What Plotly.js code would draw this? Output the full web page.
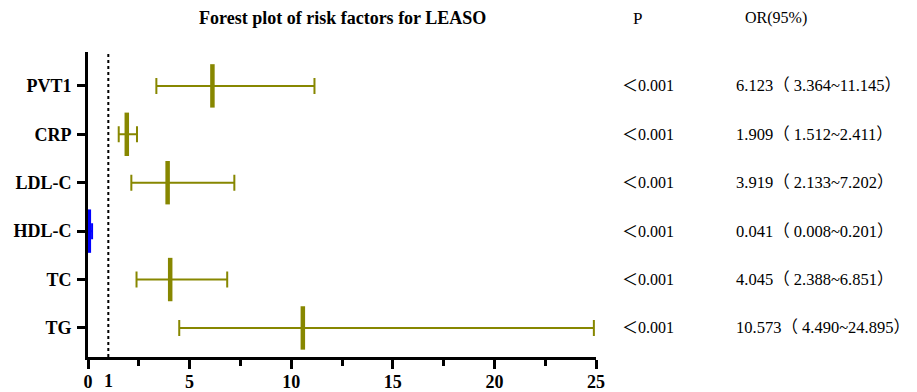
<!DOCTYPE html>
<html><head><meta charset="utf-8">
<script src="https://cdn.plot.ly/plotly-3.0.1.min.js"></script>
<style>html,body{margin:0;padding:0;background:#fff}</style>
</head><body><div id="chart" style="width:917px;height:392px"></div>
<script>
const categories = ['PVT1','CRP','LDL-C','HDL-C','TC','TG'];
const orValues = [6.123,1.909,3.919,0.041,4.045,10.573];
const lowerCI = [3.364,1.512,2.133,0.008,2.388,4.490];
const upperCI = [11.145,2.411,7.202,0.201,6.851,24.895];
const pLabels = ['＜0.001','＜0.001','＜0.001','＜0.001','＜0.001','＜0.001'];
const orLabels = ['6.123（ 3.364~11.145）','1.909（ 1.512~2.411）','3.919（ 2.133~7.202）','0.041（ 0.008~0.201）','4.045（ 2.388~6.851）','10.573（ 4.490~24.895）'];
const xTickVals = [0,5,10,15,20,25];
const highlight = 'HDL-C';

const olive = '#878700';
const blue = '#0000ff';
function mkTrace(filterFn, color){
  const idx = categories.map((c,i)=>i).filter(filterFn);
  return {
    type:'scatter', mode:'markers', cliponaxis:false,
    x: idx.map(i=>orValues[i]), y: idx.map(i=>categories[i]),
    error_x:{type:'data', symmetric:false,
      array: idx.map(i=>upperCI[i]-orValues[i]),
      arrayminus: idx.map(i=>orValues[i]-lowerCI[i]),
      color: color, thickness:2, width:8},
    marker:{symbol:'line-ns-open', size:31, color:color, line:{color:color, width:4.5}},
    hoverinfo:'skip', showlegend:false
  };
}
const traces = [
  mkTrace(i=>categories[i]!==highlight, olive),
  mkTrace(i=>categories[i]===highlight, blue)
];

const serif = 'Liberation Serif, Times New Roman, Noto Sans CJK TC, serif';
const annotations = [];
categories.forEach((c,i)=>{
  annotations.push({xref:'paper', yref:'y', x:1.047, y:c, text:pLabels[i], showarrow:false, xanchor:'left', font:{family:serif, size:16, color:'#000'}});
  annotations.push({xref:'paper', yref:'y', x:1.271, y:c, text:orLabels[i], showarrow:false, xanchor:'left', font:{family:serif, size:16.5, color:'#000'}});
});
annotations.push({xref:'paper', yref:'paper', x:0.5, y:1, yshift:34, text:'<b>Forest plot of risk factors for LEASO</b>', showarrow:false, xanchor:'center', yanchor:'middle', font:{family:serif, size:18, color:'#000'}});
annotations.push({xref:'paper', yref:'paper', x:1.081, y:1, yshift:34, text:'P', showarrow:false, xanchor:'center', yanchor:'middle', font:{family:serif, size:17, color:'#000'}});
annotations.push({xref:'paper', yref:'paper', x:1.354, y:1, yshift:34, text:'OR(95%)', showarrow:false, xanchor:'center', yanchor:'middle', font:{family:serif, size:16, color:'#000'}});
annotations.push({xref:'x', yref:'paper', x:1, y:0, yshift:-12, text:'<b>1</b>', showarrow:false, xanchor:'center', yanchor:'top', font:{family:serif, size:18, color:'#000'}});

const layout = {
  width:917, height:392,
  margin:{l:88, r:321, t:52, b:35},
  paper_bgcolor:'#fff', plot_bgcolor:'#fff',
  xaxis:{range:[0,25], tickvals:xTickVals, ticktext:xTickVals.map(v=>'<b>'+v+'</b>'),
    ticks:'outside', ticklen:9, tickwidth:3, tickcolor:'#000', ticklabelstandoff:-3,
    minor:{dtick:2.5, tick0:0, ticks:'outside', ticklen:6, tickwidth:3, tickcolor:'#000', showgrid:false},
    showline:true, linewidth:3, linecolor:'#000', showgrid:false, zeroline:false,
    tickfont:{family:serif, size:18, color:'#000'}, fixedrange:true},
  yaxis:{type:'category', categoryarray:categories.slice().reverse(), range:[-0.6,5.7],
    ticks:'outside', ticklen:8, tickwidth:3, tickcolor:'#000',
    showline:true, linewidth:3, linecolor:'#000', showgrid:false, zeroline:false,
    tickfont:{family:serif, size:18, color:'#000'}, ticklabelstandoff:2,
    tickvals:categories, ticktext:categories.map(c=>'<b>'+c+'</b>')},
  shapes:[{type:'line', xref:'x', yref:'paper', x0:1, x1:1, y0:0, y1:1, line:{color:'#000', width:2, dash:'dot'}}],
  annotations:annotations
};
Plotly.newPlot('chart', traces, layout, {displayModeBar:false, staticPlot:true});
</script></body></html>
